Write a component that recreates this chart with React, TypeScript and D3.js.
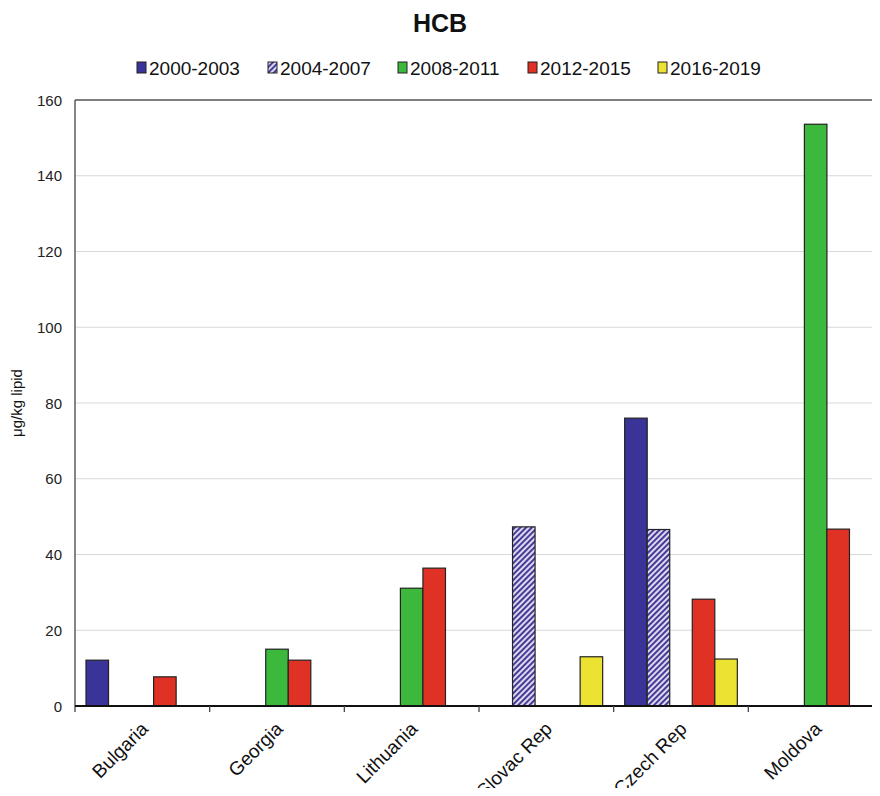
import React from "react";
import * as d3 from "d3";

const title = "HCB";
const yLabel = "μg/kg lipid";
const categories = ["Bulgaria", "Georgia", "Lithuania", "Slovac Rep", "Czech Rep", "Moldova"];
const seriesNames = ["2000-2003", "2004-2007", "2008-2011", "2012-2015", "2016-2019"];
const s2000 = [12.1, null, null, null, 76.0, null];
const s2004 = [null, null, null, 47.3, 46.6, null];
const s2008 = [null, 15.0, 31.1, null, null, 153.6];
const s2012 = [7.7, 12.1, 36.4, null, 28.2, 46.7];
const s2016 = [null, null, null, 13.0, 12.4, null];
const seriesValues = [s2000, s2004, s2008, s2012, s2016];
const yTicks = [0, 20, 40, 60, 80, 100, 120, 140, 160];

const colors = ["#3a3398", "url(#hatch)", "#3cb93c", "#e03224", "#ece232"];

export default function App() {
  const W = 880, H = 796;
  const left = 75, right = 883, top = 100, bottom = 706;
  const x = d3.scaleBand<string>().domain(categories).range([left, right]).paddingInner(0).paddingOuter(0);
  const inner = d3.scaleBand<number>().domain(d3.range(seriesNames.length)).range([11, x.bandwidth() - 11]).padding(0);
  const y = d3.scaleLinear().domain([0, 160]).range([bottom, top]);
  const font = "Arial, 'Liberation Sans', sans-serif";
  const legendX = [137, 268, 398, 528, 658];

  return (
    <div style={{ margin: -8 }}>
      <svg width={W} height={H} style={{ display: "block", fontFamily: font }}>
        <defs>
          <pattern id="hatch" patternUnits="userSpaceOnUse" width="4" height="4" patternTransform="rotate(45)">
            <rect width="4" height="4" fill="#e4e1f2" />
            <rect width="2.1" height="4" fill="#463b98" />
          </pattern>
        </defs>
        <rect width={W} height={H} fill="#fff" />
        <text x={440} y={32} textAnchor="middle" fontSize={25} fontWeight="bold" fill="#111">{title}</text>
        {seriesNames.map((s, i) => (
          <g key={s}>
            <rect x={legendX[i]} y={62} width={9} height={11} fill={colors[i]} stroke="#222" strokeWidth={1} />
            <text x={legendX[i] + 12} y={75} fontSize={19} fill="#111">{s}</text>
          </g>
        ))}
        {yTicks.filter(t => t > 0 && t < 160).map(t => (
          <line key={t} x1={left} x2={W} y1={y(t)} y2={y(t)} stroke="#d9d9d9" strokeWidth={1.2} />
        ))}
        <line x1={left} x2={W} y1={y(160)} y2={y(160)} stroke="#555" strokeWidth={1.5} />
        <line x1={left} x2={left} y1={y(160)} y2={bottom + 6} stroke="#444" strokeWidth={1.3} />
        {yTicks.map(t => (
          <text key={t} x={62} y={y(t) + 5.5} textAnchor="end" fontSize={15} fill="#222">{t}</text>
        ))}
        <text transform={`translate(22,${y(80)}) rotate(-90)`} textAnchor="middle" fontSize={15} fill="#111">{yLabel}</text>
        {seriesValues.map((vals, si) =>
          vals.map((v, ci) => v == null ? null : (
            <rect key={`${si}-${ci}`} x={(x(categories[ci]) as number) + (inner(si) as number)} y={y(v)}
              width={inner.bandwidth()} height={bottom - y(v)} fill={colors[si]} stroke="#222" strokeWidth={1.2} />
          ))
        )}
        <line x1={left} x2={W} y1={bottom} y2={bottom} stroke="#111" strokeWidth={2.2} />
        {categories.map(c => (
          <line key={c} x1={(x(c) as number) + x.bandwidth()} x2={(x(c) as number) + x.bandwidth()} y1={bottom} y2={bottom + 6} stroke="#444" strokeWidth={1.3} />
        ))}
        {categories.map(c => {
          const cx = (x(c) as number) + x.bandwidth() / 2;
          return (
            <text key={c} transform={`translate(${cx + 7},${bottom + 24}) rotate(-45)`} textAnchor="end" fontSize={19} fill="#111">{c}</text>
          );
        })}
      </svg>
    </div>
  );
}
